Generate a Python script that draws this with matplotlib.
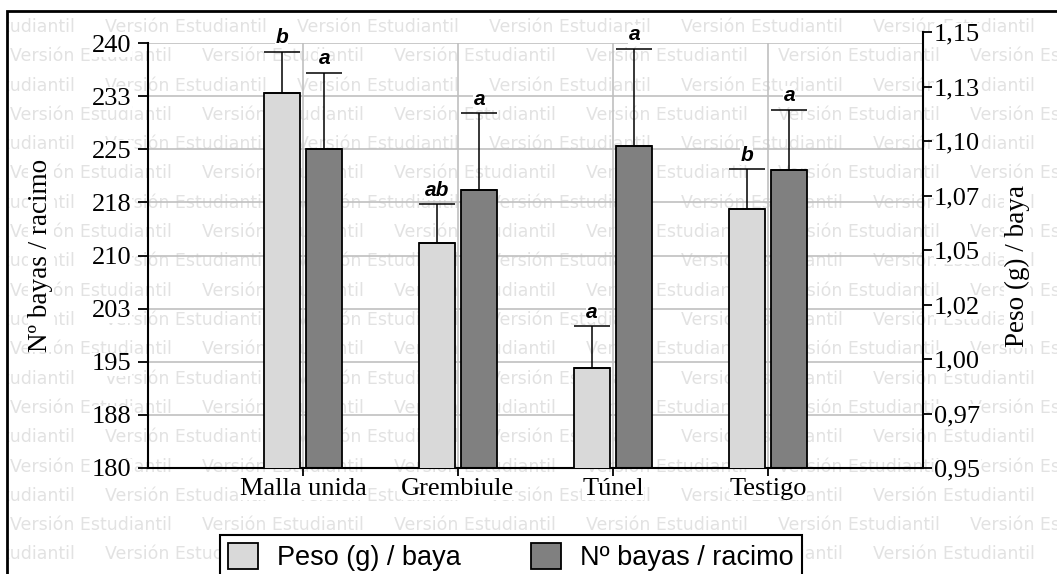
import matplotlib
matplotlib.use("Agg")
import matplotlib.pyplot as plt
import numpy as np
from matplotlib.patches import Rectangle
from matplotlib.transforms import Bbox, TransformedBbox

# datos
categorias = ["Malla unida", "Grembiule", "Túnel", "Testigo"]
peso = [1.122, 1.053, 0.996, 1.069]
peso_err = [0.019, 0.018, 0.019, 0.018]
peso_letras = ["b", "ab", "a", "b"]
bayas = [225.0, 219.3, 225.5, 222.1]
bayas_err = [10.8, 10.8, 13.7, 8.5]
bayas_letras = ["a", "a", "a", "a"]

ticks_bayas = [180, 187.5, 195, 202.5, 210, 217.5, 225, 232.5, 240]
etiq_bayas = ["180", "188", "195", "203", "210", "218", "225", "233", "240"]
ticks_peso = [0.95, 0.975, 1.0, 1.025, 1.05, 1.075, 1.1, 1.125, 1.15]
etiq_peso = ["0,95", "0,97", "1,00", "1,02", "1,05", "1,07", "1,10", "1,13", "1,15"]

W, H = 1057, 574
fig = plt.figure(figsize=(W / 100, H / 100), dpi=100)
fig.patch.set_facecolor("white")


def fx(px):
    return px / W


def fy(py):
    return 1 - py / H


serif = "Liberation Serif"
sans = "Liberation Sans"
fs = 19
blanco = dict(facecolor="white", edgecolor="none", pad=0.3)

# marca de agua
clip = TransformedBbox(Bbox.from_extents(fx(8), 0, 1, fy(12)), fig.transFigure)
for k in range(19):
    y = 27 + 29.3 * k
    x = 10 if k % 2 else -87
    while x < W:
        t = fig.text(fx(x), fy(y), "Versión Estudiantil", fontsize=12.5, color="#e2e2e2",
                     family="DejaVu Sans", ha="left", va="center", zorder=-10)
        t.set_clip_box(clip)
        t.set_clip_on(True)
        x += 192

# marco
fig.add_artist(Rectangle((fx(7), -0.1), 1.2, fy(11) + 0.1, transform=fig.transFigure,
                         fill=False, edgecolor="black", linewidth=2, zorder=10))

ax = fig.add_axes([fx(148), fy(468), fx(923) - fx(148), fy(43) - fy(468)])
ax2 = fig.add_axes([fx(148), fy(468), fx(923) - fx(148), fy(32) - fy(468)])
for a in (ax, ax2):
    a.set_facecolor("none")
    a.set_xlim(0, 5)

x = np.arange(1, 5)
off, w = 0.137, 0.23

# N bayas / racimo (eje izquierdo)
b_dark = ax.bar(x + off, bayas, w, color="#808080", edgecolor="black", linewidth=1.3, zorder=2)
ax.errorbar(x + off, bayas, yerr=[np.zeros(4), bayas_err], fmt="none", ecolor="black",
            elinewidth=1.1, capsize=13, capthick=1.1, zorder=3)
for xi, v, e, l in zip(x + off, bayas, bayas_err, bayas_letras):
    ax.annotate(l, (xi, v + e), xytext=(0, 6), textcoords="offset points", ha="center",
                va="baseline", fontsize=15, fontweight="bold", fontstyle="italic",
                family=sans, bbox=dict(facecolor="white", edgecolor="none", pad=0.2),
                annotation_clip=False)

ax.set_ylim(180, 240)
ax.set_yticks(ticks_bayas)
ax.set_yticklabels(etiq_bayas, family=serif, fontsize=fs)
ax.set_xticks(x)
ax.set_xticklabels(categorias, family=serif, fontsize=fs)
for t in ax.get_yticklabels() + ax.get_xticklabels():
    t.set_bbox(blanco)
ax.tick_params(axis="y", direction="out", length=7, width=1.3, pad=5)
ax.tick_params(axis="x", direction="out", length=6, width=1.3, pad=1)
ax.grid(True, color="#c0c0c0", linewidth=1.2)
ax.set_axisbelow(True)
for s in ("top", "right"):
    ax.spines[s].set_visible(False)
for s in ("left", "bottom"):
    ax.spines[s].set_linewidth(1.5)

# Peso (g) / baya (eje derecho)
b_light = ax2.bar(x - off, peso, w, color="#d9d9d9", edgecolor="black", linewidth=1.3, zorder=2)
ax2.errorbar(x - off, peso, yerr=[np.zeros(4), peso_err], fmt="none", ecolor="black",
             elinewidth=1.1, capsize=13, capthick=1.1, zorder=3)
for xi, v, e, l in zip(x - off, peso, peso_err, peso_letras):
    ax2.annotate(l, (xi, v + e), xytext=(0, 6), textcoords="offset points", ha="center",
                 va="baseline", fontsize=15, fontweight="bold", fontstyle="italic",
                 family=sans, bbox=dict(facecolor="white", edgecolor="none", pad=0.2),
                 annotation_clip=False)

ax2.set_ylim(0.95, 1.15)
ax2.yaxis.tick_right()
ax2.set_yticks(ticks_peso)
ax2.set_yticklabels(etiq_peso, family=serif, fontsize=fs)
for t in ax2.get_yticklabels():
    t.set_bbox(blanco)
ax2.set_xticks([])
ax2.tick_params(axis="y", direction="out", length=6.5, width=1.3, pad=1.5)
for s in ("top", "left", "bottom"):
    ax2.spines[s].set_visible(False)
ax2.spines["right"].set_linewidth(1.5)

fig.text(fx(41), fy(255), "Nº bayas / racimo", rotation=90, ha="center", va="center",
         family=serif, fontsize=fs + 0.5, bbox=blanco)
fig.text(fx(1017), fy(266), "Peso (g) / baya", rotation=90, ha="center", va="center",
         family=serif, fontsize=fs + 0.5, bbox=blanco)

leg = fig.legend([b_light, b_dark], ["Peso (g) / baya", "Nº bayas / racimo"],
                 loc="upper left", bbox_to_anchor=(fx(220), fy(535)), ncol=2,
                 frameon=True, fancybox=False, edgecolor="black", framealpha=1,
                 borderpad=0.3, borderaxespad=0, handlelength=1.1, handleheight=1.1,
                 handletextpad=0.7, columnspacing=2.6, prop={"family": sans, "size": 19.5})
leg.get_frame().set_linewidth(1.5)

fig.savefig("out.png", dpi=100)
